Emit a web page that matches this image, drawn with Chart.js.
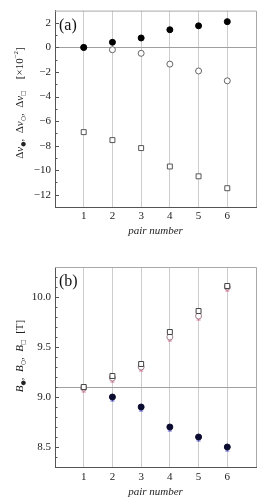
<!DOCTYPE html>
<html><head><meta charset="utf-8">
<script src="https://cdn.jsdelivr.net/npm/chart.js@4/dist/chart.umd.min.js"></script>
<style>
html,body{margin:0;padding:0;background:#fff;width:267px;height:504px;overflow:hidden}
canvas{position:absolute;left:0}
</style></head><body>
<canvas id="ca" width="267" height="252" style="top:0"></canvas>
<canvas id="cb" width="267" height="252" style="top:252px"></canvas>
<script>
// ---- data ----
const pairs = [1, 2, 3, 4, 5, 6];
const xTickLabels = ['1', '2', '3', '4', '5', '6'];
// panel (a): frequency shifts [x10^-2]
const dNuFilled = [0.0, 0.42, 0.77, 1.44, 1.76, 2.1];
const dNuOpen = [0.0, -0.19, -0.48, -1.36, -1.92, -2.72];
const dNuSquare = [-6.9, -7.55, -8.2, -9.7, -10.5, -11.47];
// panel (b): fields [T]
const bFilled = [null, 9.0, 8.9, 8.7, 8.6, 8.5];
const bOpen = [9.09, 9.19, 9.3, 9.6, 9.81, 10.1];
const bSquare = [9.1, 9.21, 9.33, 9.65, 9.86, 10.11];
const bFilledErrLow = [0, 0.04, 0.04, 0.04, 0.04, 0.04];
const bOpenErrLow = [0.04, 0.04, 0.04, 0.04, 0.04, 0.04];
const refA = 0;
const refB = 9.1;

const FONT = '"Liberation Serif", "DejaVu Serif", serif';
const pts = (ys) => pairs.map((x, i) => ({x: x, y: ys[i]}));

function drawRich(ctx, cx, cy, segs) {
  ctx.save();
  ctx.translate(cx, cy);
  ctx.rotate(-Math.PI / 2);
  let total = 0;
  segs.forEach(s => { ctx.font = s.f; s.w = ctx.measureText(s.t).width; total += s.w; });
  let x = -total / 2;
  ctx.textBaseline = 'middle';
  ctx.textAlign = 'left';
  ctx.fillStyle = '#222';
  segs.forEach(s => { ctx.font = s.f; ctx.fillText(s.t, x, s.dy || 0); x += s.w; });
  ctx.restore();
}

function decorPlugin(opts) {
  return {
    id: 'decor' + opts.tag,
    beforeDatasetsDraw(chart) {
      const ctx = chart.ctx, xs = chart.scales.x, ys = chart.scales.y;
      (opts.errs || []).forEach(e => {
        ctx.save();
        ctx.strokeStyle = e.color; ctx.lineWidth = 1;
        e.vals.forEach((v, i) => {
          if (v == null || !e.err[i]) return;
          const px = xs.getPixelForValue(pairs[i]);
          const y0 = ys.getPixelForValue(v), y1 = ys.getPixelForValue(v - e.err[i]);
          ctx.beginPath(); ctx.moveTo(px, y0); ctx.lineTo(px, y1);
          ctx.moveTo(px - 2, y1); ctx.lineTo(px + 2, y1); ctx.stroke();
        });
        ctx.restore();
      });
    },
    afterDraw(chart) {
      const ctx = chart.ctx, a = chart.chartArea, ys = chart.scales.y;
      ctx.save();
      // top/right frame
      ctx.strokeStyle = '#a8a8a8'; ctx.lineWidth = 1;
      ctx.beginPath();
      ctx.moveTo(a.left, a.top + 0.5); ctx.lineTo(a.right + 0.5, a.top + 0.5);
      ctx.lineTo(a.right + 0.5, a.bottom);
      ctx.stroke();
      // inside ticks on left
      ctx.strokeStyle = '#555';
      ys.ticks.forEach(t => {
        const py = Math.round(ys.getPixelForValue(t.value)) + 0.5;
        if (py <= a.top + 1 || py >= a.bottom - 1) return;
        const len = opts.isMajor(t.value) ? 4 : 2.5;
        ctx.beginPath(); ctx.moveTo(a.left, py); ctx.lineTo(a.left + len, py); ctx.stroke();
      });
      // panel label
      ctx.fillStyle = '#111';
      ctx.font = '16px ' + FONT;
      ctx.textBaseline = 'alphabetic';
      ctx.fillText(opts.label, a.left + 4, a.top + opts.labelDy);
      ctx.restore();
      drawRich(ctx, 20, opts.titleCy, opts.titleSegs);
    }
  };
}

function makeChart(id, cfg) {
  return new Chart(document.getElementById(id), {
    type: 'scatter',
    data: {datasets: cfg.datasets},
    options: {
      responsive: false,
      animation: false,
      devicePixelRatio: 1,
      layout: {padding: {left: 0, right: 11, top: cfg.top, bottom: 0}},
      plugins: {legend: {display: false}, tooltip: {enabled: false}},
      scales: {
        x: {
          type: 'linear', min: 0, max: 7,
          afterFit: s => { s.height = cfg.xh; },
          ticks: {
            stepSize: 1, autoSkip: false, padding: cfg.tickPad, color: '#222',
            font: {family: FONT, size: 11},
            callback: v => (v >= 1 && v <= 6 ? xTickLabels[v - 1] : '')
          },
          grid: {
            drawTicks: false, tickLength: 0, lineWidth: 1,
            color: c => (c.tick && c.tick.value >= 1 && c.tick.value <= 6 ? '#cdcdcd' : 'rgba(0,0,0,0)')
          },
          border: {display: true, color: '#555', width: 1},
          title: {
            display: true, text: 'pair number', color: '#222',
            font: {family: FONT, size: 11, style: 'italic'},
            padding: {top: 0, bottom: cfg.titlePad}
          }
        },
        y: {
          type: 'linear', min: cfg.ymin, max: cfg.ymax,
          afterFit: s => { s.width = 55; },
          ticks: {
            stepSize: cfg.step, autoSkip: false, padding: 4, color: '#222',
            font: {family: FONT, size: 11},
            callback: cfg.yLabel
          },
          grid: {
            drawTicks: false, tickLength: 0, lineWidth: 1,
            color: c => (c.tick && Math.abs(c.tick.value - cfg.ref) < 1e-6 ? '#a0a0a0' : 'rgba(0,0,0,0)')
          },
          border: {display: true, color: '#555', width: 1}
        }
      }
    },
    plugins: [cfg.plugin]
  });
}

const fs = (s) => s + 'px ' + FONT;
const fi = (s) => 'italic ' + s + 'px ' + FONT;
const SYM = (s) => s + 'px "DejaVu Sans", sans-serif';

makeChart('ca', {
  top: 6, xh: 45, tickPad: 3, titlePad: 14, ymin: -13, ymax: 3, step: 1, ref: refA,
  yLabel: v => (Math.round(v) % 2 === 0 ? (v < 0 ? '\u2212' + Math.abs(v) : String(v)) : ''),
  datasets: [
    {data: pts(dNuFilled), pointStyle: 'circle', pointRadius: 3, backgroundColor: '#000', borderColor: '#000', borderWidth: 1},
    {data: pts(dNuOpen), pointStyle: 'circle', pointRadius: 3, backgroundColor: '#fff', borderColor: '#666', borderWidth: 1},
    {data: pts(dNuSquare), pointStyle: 'rect', pointRadius: 3.5, backgroundColor: '#fff', borderColor: '#555', borderWidth: 1}
  ],
  plugin: decorPlugin({
    tag: 'a', label: '(a)', labelDy: 19, titleCy: 103,
    isMajor: v => Math.round(v) % 2 === 0,
    titleSegs: [
      {t: '\u0394', f: fs(11)}, {t: '\u03bd', f: fi(11)}, {t: '\u25cf', f: SYM(6), dy: 3},
      {t: ',  ', f: fs(11)},
      {t: '\u0394', f: fs(11)}, {t: '\u03bd', f: fi(11)}, {t: '\u25cb', f: SYM(6), dy: 3},
      {t: ',  ', f: fs(11)},
      {t: '\u0394', f: fs(11)}, {t: '\u03bd', f: fi(11)}, {t: '\u25a1', f: SYM(6), dy: 3},
      {t: '    [\u00d710', f: fs(11)}, {t: '\u22122', f: fs(7), dy: -4}, {t: ']', f: fs(11)}
    ]
  })
});

makeChart('cb', {
  top: 15, xh: 37, tickPad: 4, titlePad: 5, ymin: 8.3, ymax: 10.3, step: 0.1, ref: refB,
  yLabel: v => (Math.abs(v * 2 - Math.round(v * 2)) < 1e-6 ? v.toFixed(1) : ''),
  datasets: [
    {data: pts(bSquare), pointStyle: 'rect', pointRadius: 3.5, backgroundColor: '#fff', borderColor: '#444', borderWidth: 1},
    {data: pts(bFilled), pointStyle: 'circle', pointRadius: 3, backgroundColor: '#0c0c30', borderColor: '#0c0c30', borderWidth: 1},
    {data: pts(bOpen), pointStyle: 'circle', pointRadius: 3, backgroundColor: '#fff', borderColor: '#a08090', borderWidth: 1}
  ],
  plugin: decorPlugin({
    tag: 'b', label: '(b)', labelDy: 19, titleCy: 104,
    isMajor: v => Math.abs(v * 2 - Math.round(v * 2)) < 1e-6,
    errs: [
      {vals: bFilled, err: bFilledErrLow, color: '#5a5ad0'},
      {vals: bOpen, err: bOpenErrLow, color: '#d8708f'}
    ],
    titleSegs: [
      {t: 'B', f: fi(11)}, {t: '\u25cf', f: SYM(6), dy: 3},
      {t: ',  ', f: fs(11)},
      {t: 'B', f: fi(11)}, {t: '\u25cb', f: SYM(6), dy: 3},
      {t: ',  ', f: fs(11)},
      {t: 'B', f: fi(11)}, {t: '\u25a1', f: SYM(6), dy: 3},
      {t: '  [T]', f: fs(11)}
    ]
  })
});
</script>
</body></html>
